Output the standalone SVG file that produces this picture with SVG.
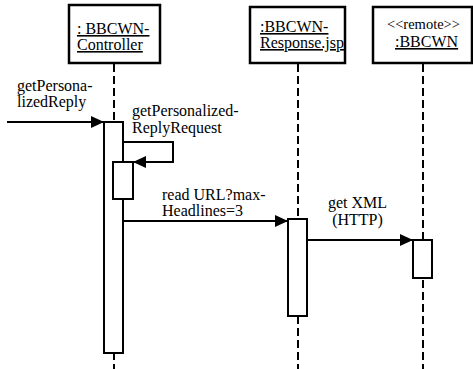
<svg xmlns="http://www.w3.org/2000/svg" width="473" height="369" viewBox="0 0 473 369">
<defs>
<style>
.box{fill:#fff;stroke:#000;stroke-width:2.5}
.act{fill:#fff;stroke:#000;stroke-width:2}
.life{stroke:#000;stroke-width:2;stroke-dasharray:8 4;fill:none}
.msg{stroke:#000;stroke-width:2;fill:none}
.t{font-family:'Liberation Serif','DejaVu Serif',serif;font-size:16px;fill:#000}
.u{text-decoration:underline}
.st{font-size:14.5px}
</style>
<marker id="ah" markerUnits="userSpaceOnUse" markerWidth="14" markerHeight="12" refX="13" refY="6" orient="auto">
<path d="M0,0 L13,6 L0,12 Z" fill="#000"/>
</marker>
</defs>
<rect width="473" height="369" fill="#fff"/>

<g id="controller">
<rect class="box" x="69" y="5" width="91" height="58"/>
<text class="t u" font-family="Liberation Serif" x="77" y="34">: BBCWN-</text>
<text class="t u" font-family="Liberation Serif" x="77" y="50">Controller</text>
<line class="life" x1="114" y1="64" x2="114" y2="369"/>
<rect class="act" x="104" y="122" width="19" height="231"/>
<rect class="act" x="113" y="162" width="20" height="37"/>
</g>

<g id="response">
<rect class="box" x="250" y="7" width="95" height="56"/>
<text class="t u" font-family="Liberation Serif" x="260" y="32">:BBCWN-</text>
<text class="t u" font-family="Liberation Serif" x="260" y="48">Response.jsp</text>
<line class="life" x1="298" y1="64" x2="298" y2="369"/>
<rect class="act" x="288" y="219" width="19" height="97"/>
</g>

<g id="remote">
<rect class="box" x="373" y="7" width="99" height="56"/>
<text class="t st" font-family="Liberation Serif" x="387" y="29">&lt;&lt;remote&gt;&gt;</text>
<text class="t u" font-family="Liberation Serif" x="395" y="47">:BBCWN</text>
<line class="life" x1="423" y1="64" x2="423" y2="369"/>
<rect class="act" x="413" y="240" width="19" height="38"/>
</g>

<g id="connectors">
<line class="msg" x1="7" y1="122" x2="104" y2="122" marker-end="url(#ah)"/>
<text class="t" font-family="Liberation Serif" x="17" y="91">getPersona-</text>
<text class="t" font-family="Liberation Serif" x="17" y="107">lizedReply</text>

<path class="msg" d="M123,142 H173 V162 H133" marker-end="url(#ah)"/>
<text class="t" font-family="Liberation Serif" x="132" y="116">getPersonalized-</text>
<text class="t" font-family="Liberation Serif" x="132" y="133">ReplyRequest</text>

<line class="msg" x1="123" y1="221" x2="288" y2="221" marker-end="url(#ah)"/>
<text class="t" font-family="Liberation Serif" x="162" y="200">read URL?max-</text>
<text class="t" font-family="Liberation Serif" x="162" y="216">Headlines=3</text>

<line class="msg" x1="307" y1="240" x2="413" y2="240" marker-end="url(#ah)"/>
<text class="t" font-family="Liberation Serif" x="357.5" y="208" text-anchor="middle">get XML</text>
<text class="t" font-family="Liberation Serif" x="357.5" y="225" text-anchor="middle">(HTTP)</text>
</g>
</svg>
